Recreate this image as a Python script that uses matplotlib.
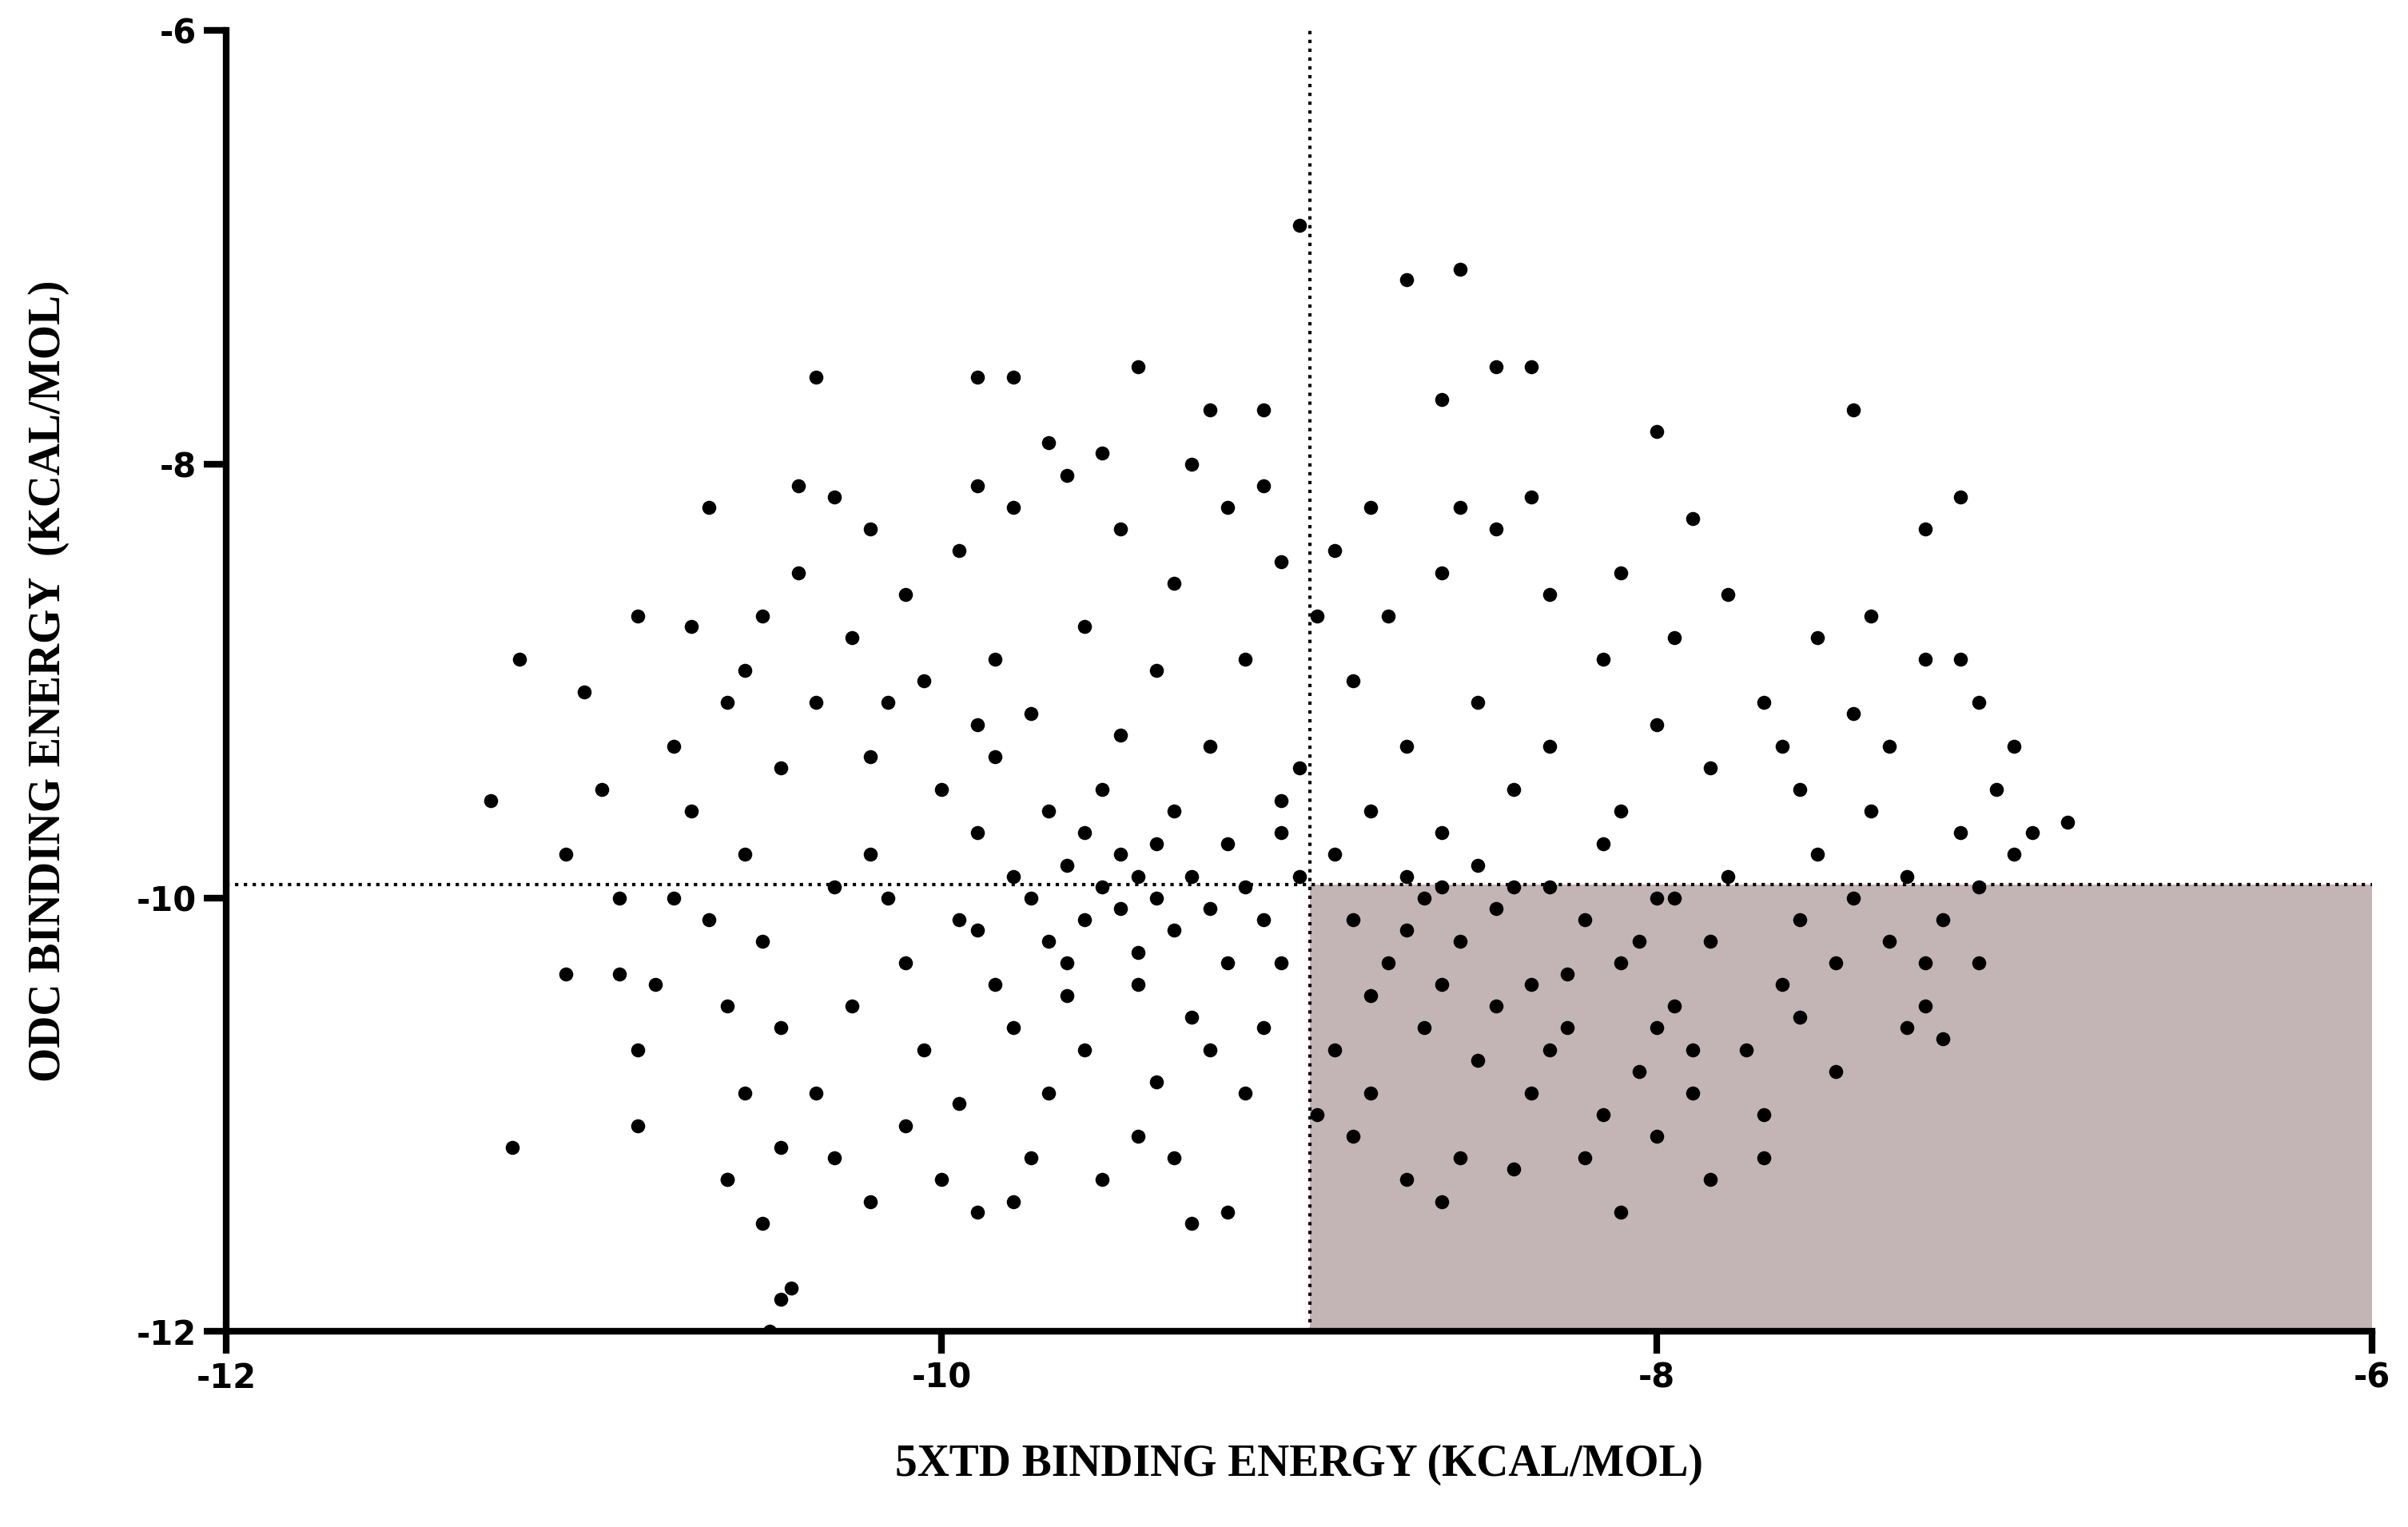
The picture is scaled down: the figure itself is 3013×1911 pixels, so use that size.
import matplotlib.pyplot as plt

plt.rcParams['axes.unicode_minus'] = False

# 5XTD (x) vs ODC (y) binding energies (subset)
x_5xtd = [
    -11.26, -11.18, -11.2, -11.0, -11.05, -10.9, -10.85, -10.85, -10.85, -10.7,
    -10.75, -10.55, -10.6, -10.65, -10.5, -10.48, -10.45, -10.42, -10.35, -10.4,
    -9.9, -9.8, -9.45, -9.25, -9.1, -9.0, -8.7, -8.55, -8.45, -8.35,
    -8.0, -7.45, -7.15, -7.9, -8.6, -6.85, -9.9, -8.1, -8.6, -9.3,
    -9.2, -10.3, -7.25,
    -10.2, -10.1, -10.0, -9.95, -9.9, -9.85, -9.8, -9.75, -9.7, -9.7,
    -9.65, -9.6, -9.6, -9.55, -9.5, -9.5, -9.45, -9.45, -9.4, -9.4,
    -9.35, -9.35, -9.3, -9.25, -9.2, -9.2, -9.15, -9.1, -9.05, -9.0,
    -9.55, -9.65, -9.8, -9.9, -10.05, -10.15, -10.25, -9.3, -9.1, -9.0,
    -9.85, -9.75, -9.5, -9.25, -9.6, -9.4, -9.7, -9.95, -10.1, -9.15,
    -8.95, -9.35, -9.55, -9.75, -10.0, -10.3, -10.35, -10.45, -10.5, -10.55,
    -10.45, -10.35, -10.25, -10.1, -9.95, -9.8, -9.65, -9.5, -9.35, -9.2,
    -9.05, -8.95, -9.15, -9.4, -9.6, -9.85, -10.05, -10.2, -10.6, -10.7,
    -10.65, -10.6, -10.55, -10.75, -10.8, -10.95, -11.05, -10.9, -10.4, -10.2,
    -9.7, -9.55, -9.9, -9.3, -9.1, -10.5, -10.3, -10.15, -9.65, -9.9,
    -9.45, -9.25, -9.05, -9.05, -10.45, -10.6, -10.2, -9.8, -9.45,
    -8.9, -8.85, -8.8, -8.75, -8.7, -8.65, -8.6, -8.55, -8.5, -8.45,
    -8.4, -8.35, -8.3, -8.25, -8.2, -8.15, -8.1, -8.05, -8.0, -7.95,
    -7.9, -7.85, -7.8, -7.75, -7.7, -7.65, -7.6, -7.55, -7.5, -7.45,
    -7.4, -7.35, -7.3, -7.25, -7.2, -7.15, -7.1, -7.05, -7.0, -6.95,
    -7.1, -7.3, -7.5, -7.7, -7.85, -8.0, -8.2, -8.4, -8.55, -8.7,
    -8.85, -8.9, -8.8, -8.65, -8.5, -8.35, -8.15, -8.3, -8.45, -8.6,
    -8.0, -7.9, -8.1, -8.3, -8.5, -8.7, -8.85, -8.75, -8.6, -8.45,
    -8.3, -8.15, -8.0, -7.85, -7.7, -7.55, -7.4, -7.25, -7.1, -7.0,
    -7.6, -7.8, -7.95, -8.1, -8.35, -8.55, -8.8, -8.9, -7.35, -7.15,
    -7.45, -7.65, -7.25, -7.2, -7.6, -8.25, -8.05, -7.95, -8.7, -8.8,
    -8.4, -8.6,
]
y_odc = [
    -9.55, -8.9, -11.15, -9.05, -10.35, -10.35, -8.7, -10.7, -11.05, -8.75,
    -10.0, -8.95, -11.3, -8.2, -11.5, -12.0, -11.85, -11.8, -7.6, -8.1,
    -7.6, -7.6, -7.55, -7.75, -7.75, -6.9, -7.15, -7.1, -7.55, -7.55,
    -7.85, -7.75, -8.15, -8.25, -7.7, -9.65, -11.45, -11.45, -11.4, -11.5,
    -11.45, -8.15, -8.3,
    -9.8, -10.3, -9.5, -10.1, -9.7, -10.4, -9.9, -10.0, -9.6, -10.2,
    -9.85, -10.1, -9.7, -9.95, -10.05, -9.8, -9.9, -10.25, -9.75, -10.0,
    -9.6, -10.15, -9.9, -10.05, -9.75, -10.3, -9.95, -10.1, -9.7, -9.9,
    -9.5, -10.45, -10.6, -9.2, -10.7, -9.1, -10.5, -10.55, -10.6, -9.4,
    -9.35, -9.15, -9.25, -9.3, -10.7, -10.85, -10.9, -10.95, -11.05, -10.9,
    -11.0, -11.2, -11.3, -11.2, -11.3, -11.2, -10.9, -10.6, -10.2, -9.8,
    -9.4, -9.1, -8.8, -8.6, -8.4, -8.2, -8.05, -8.3, -8.55, -8.2,
    -8.45, -8.7, -8.9, -8.95, -8.75, -8.9, -9.0, -9.35, -9.1, -9.6,
    -10.1, -10.5, -10.9, -9.3, -10.4, -9.5, -9.8, -10.0, -8.5, -8.3,
    -7.9, -7.95, -8.1, -8.0, -8.1, -8.7, -9.95, -10.0, -10.3, -10.15,
    -10.4, -10.7, -10.3, -9.55, -11.15, -11.3, -11.4, -11.4, -11.1,
    -9.8, -10.1, -9.6, -10.3, -9.9, -10.0, -9.7, -10.2, -9.85, -10.05,
    -9.5, -10.4, -9.95, -10.6, -10.1, -9.75, -10.3, -10.8, -10.0, -10.5,
    -10.9, -10.2, -9.9, -10.7, -11.0, -10.4, -10.1, -9.8, -10.3, -10.0,
    -9.6, -10.2, -9.9, -10.5, -10.1, -9.7, -9.95, -9.5, -9.8, -9.7,
    -10.3, -10.6, -10.8, -11.2, -11.3, -11.1, -11.2, -11.25, -11.2, -11.3,
    -11.1, -10.7, -10.9, -10.6, -10.75, -10.9, -11.0, -10.7, -10.5, -10.4,
    -10.6, -10.7, -9.6, -9.3, -9.1, -9.3, -9.0, -8.7, -8.5, -8.3,
    -8.6, -8.9, -9.2, -9.4, -9.1, -8.8, -8.7, -8.9, -9.1, -9.3,
    -9.5, -8.6, -8.8, -8.5, -8.15, -8.2, -8.2, -8.4, -9.3, -8.9,
    -9.15, -9.3, -10.3, -10.65, -10.55, -10.35, -10.2, -10.0, -10.15, -10.45,
    -9.95, -9.95,
]

x_cut = -8.97
y_cut = -9.94

fig = plt.figure(figsize=(15.065, 9.555), dpi=200)
ax = fig.add_axes([0.094, 0.128, 0.891, 0.852])

ax.fill_between([x_cut, -6], -12, y_cut, color='#c3b5b5', lw=0, zorder=0)
ax.axvline(x_cut, color='black', ls=':', lw=1.5, zorder=1)
ax.axhline(y_cut, color='black', ls=':', lw=1.5, zorder=1)
ax.scatter(x_5xtd, y_odc, s=40, color='black', lw=0, zorder=2)

ax.set_xlim(-12, -6)
ax.set_ylim(-12, -6)
ax.set_xticks([-12, -10, -8, -6])
ax.set_yticks([-12, -10, -8, -6])
for sp in ['top', 'right']:
    ax.spines[sp].set_visible(False)
for sp in ['left', 'bottom']:
    ax.spines[sp].set_linewidth(3)
ax.tick_params(width=3, length=10, labelsize=15)
for lab in ax.get_xticklabels() + ax.get_yticklabels():
    lab.set_fontweight('bold')

ax.set_xlabel('5XTD BINDING ENERGY (KCAL/MOL)', family='Liberation Serif',
              fontweight='bold', fontsize=20, labelpad=22)
ax.set_ylabel('ODC BINDING ENERGY  (KCAL/MOL)', family='Liberation Serif',
              fontweight='bold', fontsize=20, labelpad=30)

fig.savefig('out.png')
